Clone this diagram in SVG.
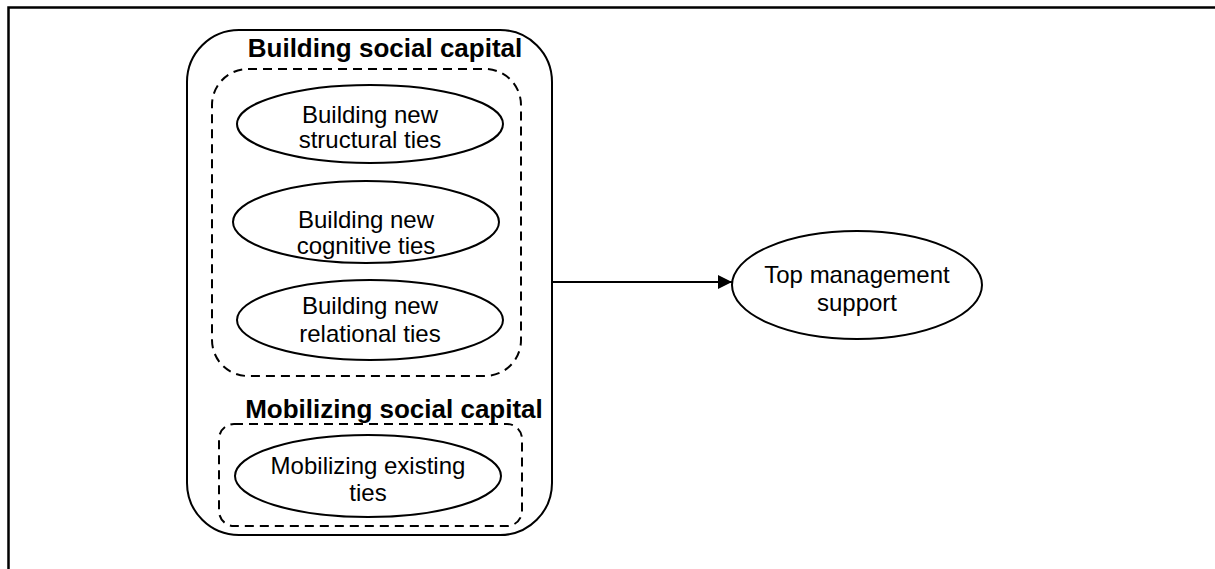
<svg xmlns="http://www.w3.org/2000/svg" width="1215" height="569" viewBox="0 0 1215 569">
<style>
.t{font-family:"Liberation Sans",Arial,sans-serif;font-size:24px;fill:#000;text-anchor:middle}
.h{font-family:"Liberation Sans",Arial,sans-serif;font-size:26px;font-weight:bold;fill:#000;text-anchor:middle}
.n{fill:#fff;stroke:#000;stroke-width:2}
.d{fill:none;stroke:#000;stroke-width:2;stroke-dasharray:9 6}
</style>
<defs>
<marker id="ah" viewBox="0 0 10 10" refX="10" refY="5" markerWidth="16" markerHeight="14" markerUnits="userSpaceOnUse" orient="auto">
<path d="M0,0 L10,5 L0,10 Z" fill="#000"/>
</marker>
</defs>
<rect width="1215" height="569" fill="#fff"/>
<path d="M8.5,569 V7.5 H1215" fill="none" stroke="#000" stroke-width="2.5"/>
<g id="building-social-capital">
<rect class="n" x="187" y="30" width="365" height="505" rx="52" ry="52"/>
<text class="h" x="385" y="57">Building social capital</text>
<rect class="d" x="212" y="69" width="309" height="307" rx="36" ry="36"/>
</g>
<g id="mobilizing-social-capital">
<text class="h" x="394" y="418">Mobilizing social capital</text>
<rect class="d" x="219" y="424" width="303" height="102" rx="15" ry="15"/>
</g>
<g id="structural">
<ellipse class="n" cx="370" cy="124" rx="133" ry="39"/>
<text class="t" x="370" y="123">Building new</text>
<text class="t" x="370" y="148">structural ties</text>
</g>
<g id="cognitive">
<ellipse class="n" cx="366" cy="222" rx="133" ry="41"/>
<text class="t" x="366" y="228">Building new</text>
<text class="t" x="366" y="254">cognitive ties</text>
</g>
<g id="relational">
<ellipse class="n" cx="370" cy="320" rx="133" ry="40"/>
<text class="t" x="370" y="314">Building new</text>
<text class="t" x="370" y="342">relational ties</text>
</g>
<g id="mobilizing">
<ellipse class="n" cx="368" cy="476" rx="133" ry="41"/>
<text class="t" x="368" y="474">Mobilizing existing</text>
<text class="t" x="368" y="501">ties</text>
</g>
<g id="top-management">
<ellipse class="n" cx="857" cy="285" rx="125" ry="54"/>
<text class="t" x="857" y="283">Top management</text>
<text class="t" x="857" y="311">support</text>
</g>
<g id="connectors">
<line x1="552" y1="282" x2="732" y2="282" stroke="#000" stroke-width="2" marker-end="url(#ah)"/>
</g>
</svg>
